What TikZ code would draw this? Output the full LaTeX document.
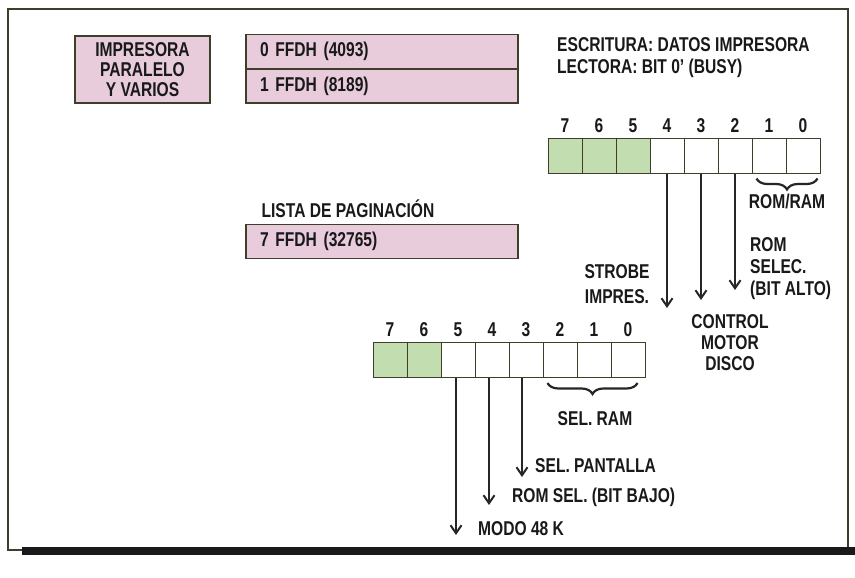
\documentclass[tikz,border=0pt]{standalone}
\usepackage{fontspec}
\setmainfont{Liberation Sans}[FakeStretch=0.78]
\usetikzlibrary{positioning,arrows.meta,decorations.pathreplacing}

\definecolor{rosa}{RGB}{233,204,220}
\definecolor{verde}{RGB}{194,222,176}
\definecolor{linea}{RGB}{62,62,42}

\begin{document}
\begin{tikzpicture}[x=1pt, y=-1pt,
		every node/.style={inner sep=0pt, text=black!90, font=\bfseries\fontsize{20}{22}\selectfont},
		caja/.style={draw=linea, line width=1.2pt, fill=rosa},
		fila/.style={caja, minimum height=33.5pt, text width=244pt, inner xsep=14pt, align=left},
		celda/.style={draw=linea, line width=1pt, minimum width=34pt, minimum height=35pt, fill=white},
		marcada/.style={celda, fill=verde},
		flecha/.style={-{Straight Barb[length=8pt,width=11pt]}, line width=2pt, black!85},
		llave/.style={decorate, decoration={brace, mirror, amplitude=11pt}, line width=2.2pt, black!85}]
		\useasboundingbox (0,0) rectangle (855,578);
		
		% marco
		\draw[linea, line width=1.3pt] (8,9) rectangle (848,550);
		\fill[black!90] (22,547) rectangle (855,555);
		
		% cajas de puertos
		\node[caja, minimum width=135pt, minimum height=67pt, align=center, font=\bfseries\fontsize{20}{20}\selectfont] (impresora) at (142.5,69.5) {IMPRESORA\\PARALELO\\Y VARIOS};
		\node[fila] (puerto0) at (382,51.5) {0 FFDH (4093)};
		\node[fila, below=0pt of puerto0] (puerto1) {1 FFDH (8189)};
		\node[fila] (pagina) at (382,241.5) {7 FFDH (32765)};
		\node[above right=6pt and 16pt of pagina.north west] (lista) {LISTA DE PAGINACIÓN};
		
		\node[anchor=north west, align=left] (escritura) at (557,37) {ESCRITURA: DATOS IMPRESORA\\LECTORA: BIT 0' (BUSY)};
		
		% registro superior
		\foreach \b [count=\k from 0] in {7,6,5} {
			\node[marcada] (u\b) at ({565+34*\k},155.5) {};
		}
		\foreach \b [count=\k from 3] in {4,3,2,1,0} {
			\node[celda] (u\b) at ({565+34*\k},155.5) {};
		}
		\foreach \b in {7,...,0} {
			\node[above=5pt of u\b] (nu\b) {\b};
		}
		\coordinate (e4) at (u4.south |- 0,308);
		\coordinate (e3) at (u3.south |- 0,300);
		\coordinate (e2) at (u2.south |- 0,290);
		\draw[flecha] (u4.south) -- (e4);
		\draw[flecha] (u3.south) -- (e3);
		\draw[flecha] (u2.south) -- (e2);
		\draw[llave] ([xshift=5pt,yshift=-5pt]u1.south west) -- ([xshift=-3pt,yshift=-5pt]u0.south east);
		
		\node (romram) at (787,201) {ROM/RAM};
		\node[anchor=south west, align=left] (romselec) at (750,300) {ROM\\SELEC.\\(BIT ALTO)};
		\node[anchor=south, align=center, font=\bfseries\fontsize{20}{25}\selectfont] (strobe) at (617,304) {STROBE\\IMPRES.};
		\node[anchor=north, align=center, font=\bfseries\fontsize{20}{21}\selectfont] (motor) at (730,314) {CONTROL\\MOTOR\\DISCO};
		
		% registro inferior
		\foreach \b [count=\k from 0] in {7,6} {
			\node[marcada] (d\b) at ({390+34*\k},360) {};
		}
		\foreach \b [count=\k from 2] in {5,4,3,2,1,0} {
			\node[celda] (d\b) at ({390+34*\k},360) {};
		}
		\foreach \b in {7,...,0} {
			\node[above=5pt of d\b] (nd\b) {\b};
		}
		\coordinate (f5) at ([xshift=-2pt]d5.south |- 0,535);
		\coordinate (f4) at ([xshift=-3pt]d4.south |- 0,505);
		\coordinate (f3) at ([xshift=-4pt]d3.south |- 0,477);
		\draw[flecha] ([xshift=-2pt]d5.south) -- (f5);
		\draw[flecha] ([xshift=-3pt]d4.south) -- (f4);
		\draw[flecha] ([xshift=-4pt]d3.south) -- (f3);
		\draw[llave] ([xshift=5pt,yshift=-5pt]d2.south west) -- ([xshift=-8pt,yshift=-5pt]d0.south east);
		
		\node (selram) at (595,419) {SEL. RAM};
		\node[anchor=west] (pantalla) at (535,466) {SEL. PANTALLA};
		\node[anchor=west] (romsel) at (512,497) {ROM SEL. (BIT BAJO)};
		\node[anchor=west] (modo) at (478,529) {MODO 48 K};
	\end{tikzpicture}
\end{document}
